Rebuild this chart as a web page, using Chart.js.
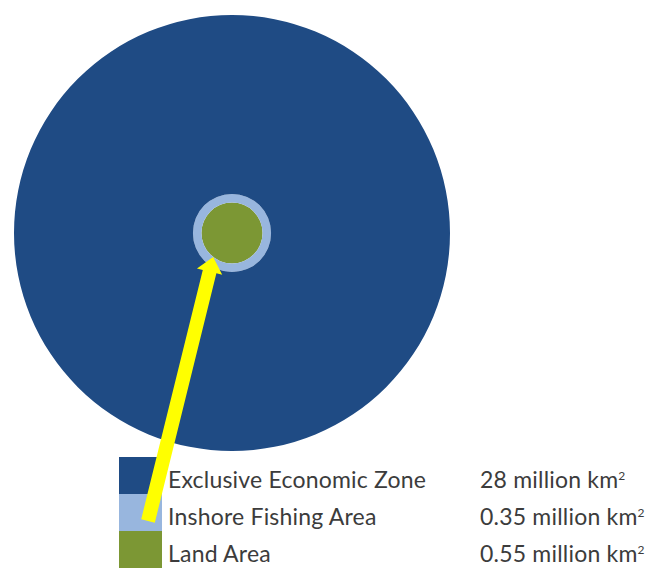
<!DOCTYPE html>
<html>
<head>
<meta charset="utf-8">
<script src="https://cdn.jsdelivr.net/npm/chart.js@4/dist/chart.umd.min.js"></script>
<style>
  html, body { margin: 0; padding: 0; background: #ffffff; }
  #wrap { position: relative; width: 648px; height: 569px; overflow: hidden; }
  #chart { position: absolute; left: 0; top: 0; z-index: 2; }
  #legend { position: absolute; left: 0; top: 0; width: 648px; height: 569px; z-index: 1;
            font-family: Lato, "Open Sans", sans-serif; font-size: 23px; color: #3c3c3c; }
  .row { position: absolute; left: 0; width: 648px; height: 37px; }
  .swatch { position: absolute; left: 119px; top: 0; width: 43px; height: 37px; }
  .label, .value { position: absolute; top: 11px; line-height: 23px; white-space: nowrap; }
  .label { left: 168px; letter-spacing: 0.2px; }
  .value { left: 480px; letter-spacing: 0.2px; }
  .value sup { font-size: 12px; position: relative; top: -4px; vertical-align: top; letter-spacing: 0; }
</style>
</head>
<body>
<div id="wrap">
  <div id="legend"></div>
  <canvas id="chart" width="648" height="569"></canvas>
</div>
<script>
// areas in million km2
const categories = ["Exclusive Economic Zone", "Inshore Fishing Area", "Land Area"];
const areas = [28, 0.35, 0.55];
const valueLabels = ["28 million km", "0.35 million km", "0.55 million km"];
const colors = ["#1f4b84", "#98b6de", "#7c9734"];

// nested discs: land inside inshore inside the EEZ, radius ~ sqrt(area)
const discAreas = [areas[0], areas[1] + areas[2], areas[2]];
const discRadii = discAreas.map(a => Math.sqrt(a / discAreas[0]));
// ring thickness of each dataset (outer -> inner) as doughnut weights
const ringWeights = discRadii.map((r, i) => r - (discRadii[i + 1] || 0));

const legend = document.getElementById("legend");
categories.forEach((name, i) => {
  const row = document.createElement("div");
  row.className = "row";
  row.style.top = (457 + 37 * i) + "px";
  row.innerHTML = `<div class="swatch" style="background:${colors[i]}"></div>` +
    `<span class="label">${name}</span>` +
    `<span class="value">${valueLabels[i]}<sup>2</sup></span>`;
  legend.appendChild(row);
});

// yellow arrow from the inshore swatch to the edge of the land circle
const arrowPlugin = {
  id: "arrow",
  afterDatasetsDraw(chart) {
    const ctx = chart.ctx;
    const land = chart.getDatasetMeta(2).data[0];
    const r = land.outerRadius;
    const ang = 128 * Math.PI / 180;
    const tip = { x: land.x + r * Math.cos(ang), y: land.y + r * Math.sin(ang) };
    const sw = legend.querySelectorAll(".swatch")[1].getBoundingClientRect();
    const tail = { x: sw.left + 29, y: sw.top + 27 };
    const len = Math.hypot(tip.x - tail.x, tip.y - tail.y);
    const ux = (tip.x - tail.x) / len, uy = (tip.y - tail.y) / len;
    const nx = -uy, ny = ux;
    const shaft = 7, head = 13, headLen = 15;
    const bx = tip.x - ux * headLen, by = tip.y - uy * headLen;
    ctx.save();
    ctx.fillStyle = "#ffff00";
    ctx.beginPath();
    ctx.moveTo(tail.x + nx * shaft, tail.y + ny * shaft);
    ctx.lineTo(bx + nx * shaft, by + ny * shaft);
    ctx.lineTo(bx + nx * head, by + ny * head);
    ctx.lineTo(tip.x, tip.y);
    ctx.lineTo(bx - nx * head, by - ny * head);
    ctx.lineTo(bx - nx * shaft, by - ny * shaft);
    ctx.lineTo(tail.x - nx * shaft, tail.y - ny * shaft);
    ctx.closePath();
    ctx.fill();
    ctx.restore();
  }
};

new Chart(document.getElementById("chart"), {
  type: "pie",
  data: {
    labels: ["area"],
    datasets: categories.map((name, i) => ({
      label: name,
      data: [areas[i]],
      backgroundColor: colors[i],
      borderWidth: 0,
      weight: ringWeights[i],
    })),
  },
  options: {
    responsive: false,
    devicePixelRatio: 1,
    animation: false,
    events: [],
    layout: { padding: { left: 14, right: 198, top: 15, bottom: 118 } },
    plugins: {
      legend: { display: false },
      tooltip: { enabled: false },
    },
  },
  plugins: [arrowPlugin],
});
</script>
</body>
</html>
